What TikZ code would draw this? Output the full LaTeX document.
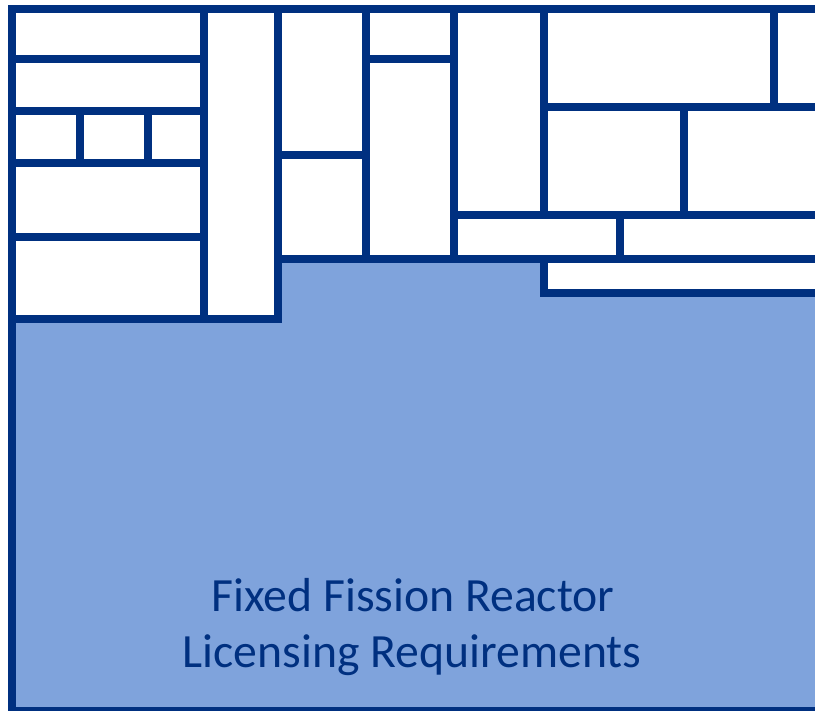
\documentclass[tikz,border=0pt]{standalone}
\usepackage{fontspec}
\setmainfont{Carlito}
\usepackage{xcolor}
\definecolor{frameblue}{RGB}{0,48,128}
\definecolor{areablue} {RGB}{127,163,220}

\begin{document}
\begin{tikzpicture}[x=1pt,y=-1pt,
  wall/.style={draw=frameblue,line width=8pt,line cap=rect},
  area/.style={fill=areablue},
  title/.style={text=frameblue,font=\fontsize{47.7}{57}\selectfont,
                anchor=base,inner sep=0pt},
]

%% Page size (picture runs off the right edge)
\useasboundingbox (0,0) rectangle (815,711);
\clip (0,0) rectangle (815,711);

%% Licensing area
\fill[area] (12,319) -- (278,319) -- (278,259) -- (544,259) -- (544,293)
  -- (830,293) -- (830,711) -- (12,711) -- cycle;

%% Outer frame
\draw[wall,line join=miter] (830,9) -- (12,9) -- (12,711) -- (830,711);

%% Left block
\foreach \y in {59,111,163,237}
  \draw[wall] (12,\y) -- (204,\y);
\foreach \x in {80,148}
  \draw[wall] (\x,111) -- (\x,163);
\draw[wall] (204,9) -- (204,319);
\draw[wall] (12,319) -- (278,319) -- (278,9);

%% Middle block
\draw[wall] (278,155) -- (366,155);
\draw[wall] (366,9) -- (366,259);
\draw[wall] (366,59) -- (454,59);
\draw[wall] (454,9) -- (454,259);
\draw[wall] (278,259) -- (830,259);

%% Right block
\draw[wall] (454,215) -- (830,215);
\draw[wall] (544,9) -- (544,215);
\draw[wall] (544,107) -- (830,107);
\draw[wall] (774,9) -- (774,107);
\draw[wall] (684,107) -- (684,215);
\draw[wall] (620,215) -- (620,259);
\draw[wall] (544,259) -- (544,293) -- (830,293);

%% Title
\node[title] (line1) at (413,611.7) {Fixed Fission Reactor};
\node[title] (line2) at (412,667)   {Licensing Requirements};

\end{tikzpicture}
\end{document}
